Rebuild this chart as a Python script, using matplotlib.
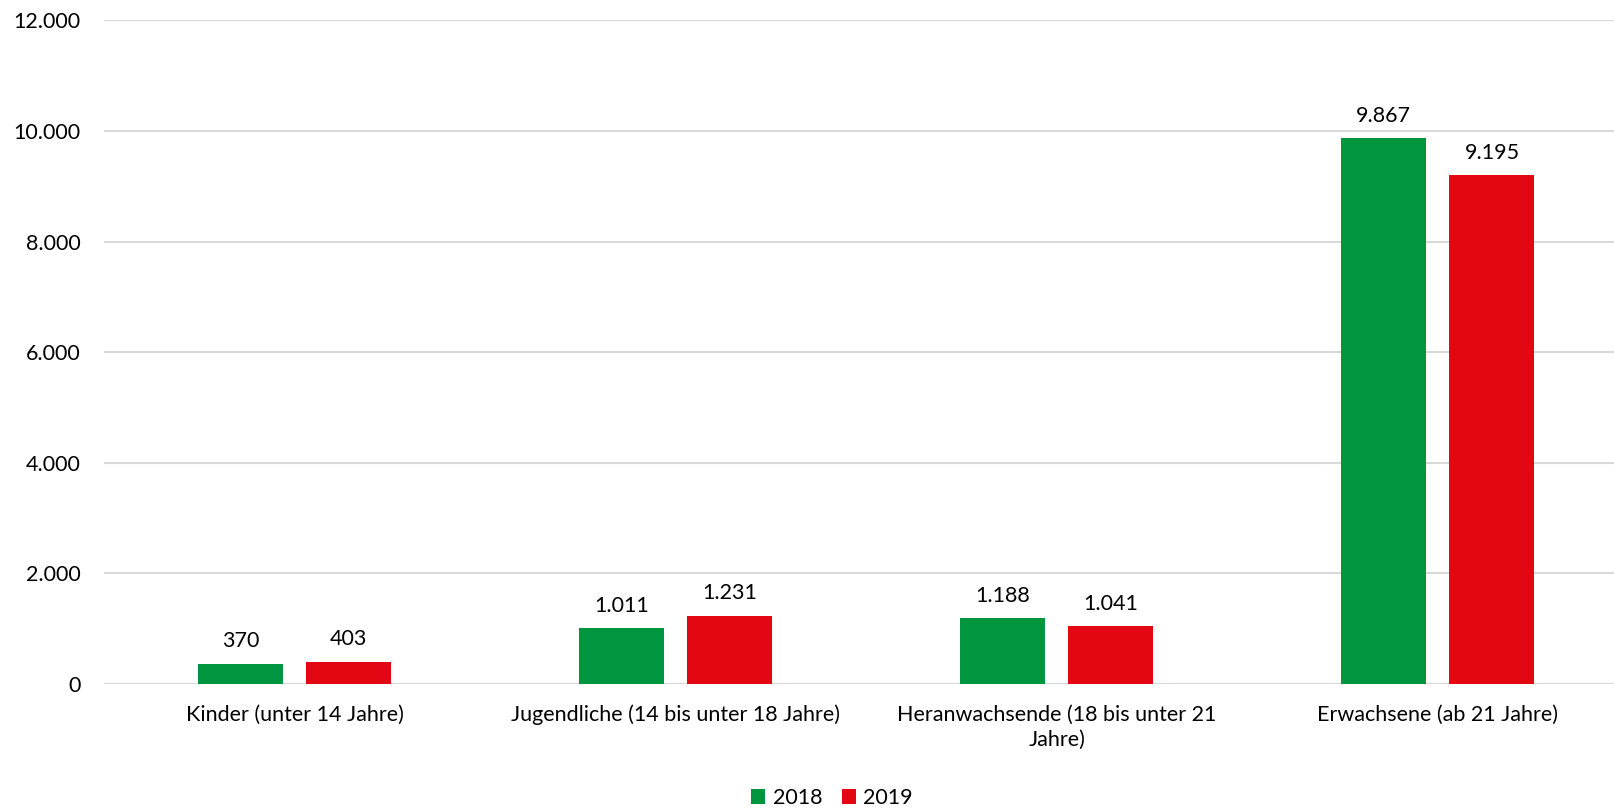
import numpy as np
import matplotlib.pyplot as plt
from matplotlib.ticker import FuncFormatter

plt.rcParams['font.family'] = ['Lato', 'DejaVu Sans']

categories = ['Kinder (unter 14 Jahre)',
              'Jugendliche (14 bis unter 18 Jahre)',
              'Heranwachsende (18 bis unter 21\nJahre)',
              'Erwachsene (ab 21 Jahre)']
years = ['2018', '2019']
values_2018 = [370, 1011, 1188, 9867]
values_2019 = [403, 1231, 1041, 9195]
colors = ['#009640', '#E30613']


def de_fmt(v, pos=None):
    return f'{int(round(v)):,}'.replace(',', '.')


fig = plt.figure(figsize=(16.15, 8.09), dpi=100)
# plot area runs slightly past the right edge, as in the original export
ax = fig.add_axes([104 / 1615, 125 / 809, 1524.4 / 1615, 663.7 / 809])

x = np.arange(len(categories))
width = 0.223
offset = 0.142
fs = 15.5
for vals, off, col, lab in [(values_2018, -offset, colors[0], years[0]),
                            (values_2019, offset, colors[1], years[1])]:
    bars = ax.bar(x + off, vals, width, color=col, label=lab, zorder=3)
    for b, v in zip(bars, vals):
        ax.annotate(de_fmt(v), (b.get_x() + b.get_width() / 2, v),
                    xytext=(0, 9), textcoords='offset points',
                    ha='center', va='bottom', fontsize=fs, color='#000000')

ax.set_xlim(-0.5, len(categories) - 0.5)
ax.set_ylim(0, 12000)
ax.set_yticks(np.arange(0, 12001, 2000))
ax.yaxis.set_major_formatter(FuncFormatter(de_fmt))
ax.set_xticks(x)
ax.set_xticklabels(categories, fontsize=fs, linespacing=1.3)
ax.tick_params(axis='y', labelsize=fs, length=0, pad=17)
ax.tick_params(axis='x', length=0, pad=15)
ax.grid(axis='y', color='#D9D9D9', linewidth=1.5, zorder=0)
ax.set_axisbelow(True)
for s in ax.spines.values():
    s.set_visible(False)

leg = ax.legend(loc='center', ncol=2, frameon=False, fontsize=fs,
                handlelength=0.65, handleheight=0.65, handletextpad=0.35,
                columnspacing=0.9)
leg.set_bbox_to_anchor((832 / 1615, 1 - 798 / 809), transform=fig.transFigure)

fig.savefig('out.png', dpi=100)
